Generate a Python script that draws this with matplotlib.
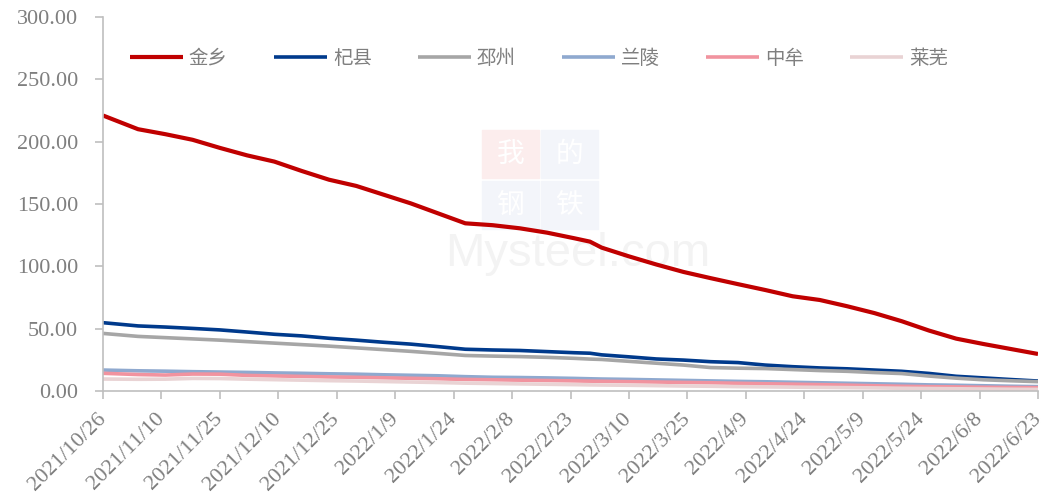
import matplotlib
matplotlib.use("Agg")
import matplotlib.pyplot as plt
import matplotlib.patches as mpatches
import pandas as pd

plt.rcParams['font.family'] = ['Liberation Serif', 'Noto Sans CJK SC', 'DejaVu Sans']

dates = ["2021-10-26", "2021-11-04", "2021-11-11", "2021-11-18", "2021-11-25",
         "2021-12-02", "2021-12-09", "2021-12-16", "2021-12-23", "2021-12-30",
         "2022-01-06", "2022-01-13", "2022-01-20", "2022-01-27", "2022-02-03",
         "2022-02-10", "2022-02-17", "2022-02-24", "2022-02-28", "2022-03-03",
         "2022-03-10", "2022-03-17", "2022-03-24", "2022-03-31", "2022-04-07",
         "2022-04-14", "2022-04-21", "2022-04-28", "2022-05-05", "2022-05-12",
         "2022-05-19", "2022-05-26", "2022-06-02", "2022-06-09", "2022-06-16",
         "2022-06-23"]

jinxiang = [221, 210, 206, 201.5, 195, 189, 184, 176.5, 169.5, 164.5,
            157.5, 150.5, 142.5, 134.5, 133, 130.5, 127, 122.5, 119.8, 115,
            108, 101.5, 95.5, 90.5, 85.7, 81, 76, 73, 68, 62.5,
            56, 48.5, 42, 37.7, 33.7, 29.7]
qixian = [54.8, 52.2, 51.3, 50.2, 49, 47.3, 45.5, 44.2, 42.3, 40.8,
          39.1, 37.6, 35.6, 33.5, 32.9, 32.5, 31.6, 30.7, 30.3, 29.0,
          27.4, 25.7, 24.8, 23.5, 22.8, 20.8, 19.5, 18.5, 17.8, 16.8,
          15.8, 14.1, 11.8, 10.5, 9.2, 8.0]
pizhou = [46.2, 43.8, 42.8, 41.8, 40.8, 39.6, 38.4, 37.2, 36, 34.6,
          33.2, 31.8, 30.2, 28.5, 28, 27.6, 27, 26.2, 25.6, 25.3,
          23.8, 22.3, 20.8, 18.8, 18.3, 18, 17.2, 16.4, 15.8, 14.8,
          14, 12, 10.3, 9, 8.2, 7.5]
lanling = [16.8, 16.2, 15.9, 15.5, 15.2, 14.9, 14.5, 14.2, 13.8, 13.5,
           13.0, 12.6, 12.2, 11.5, 11.0, 10.8, 10.5, 10.1, 9.8, 9.6,
           9.3, 8.9, 8.5, 8.1, 7.7, 7.4, 7.0, 6.6, 6.2, 5.8,
           5.4, 4.9, 4.6, 4.2, 3.8, 3.5]
zhongmou = [14.2, 13.2, 12.8, 13.6, 13.5, 12.5, 12.1, 11.7, 11.3, 11.0,
            10.6, 10.2, 9.8, 9.3, 9.0, 8.7, 8.4, 8.1, 7.9, 7.8,
            7.5, 7.2, 6.9, 6.6, 6.2, 5.8, 5.5, 5.1, 4.7, 4.2,
            3.8, 3.5, 3.3, 3.0, 2.8, 2.7]
laiwu = [9.6, 9.4, 9.5, 10.1, 10.0, 9.5, 9.1, 8.7, 8.3, 8.0,
         7.6, 7.2, 6.8, 6.3, 6.0, 5.7, 5.4, 5.1, 4.9, 4.8,
         4.6, 4.3, 4.0, 3.8, 3.5, 3.3, 3.1, 2.9, 2.7, 2.5,
         2.2, 2.0, 1.8, 1.6, 1.4, 1.3]

names = ["金乡", "杞县", "邳州", "兰陵", "中牟", "莱芜"]
series = [jinxiang, qixian, pizhou, lanling, zhongmou, laiwu]
colors = ["#C00000", "#003A8C", "#A6A6A6", "#8FA9CF", "#F1939F", "#E9D3D4"]
widths = [3.0, 2.6, 2.6, 2.6, 2.6, 2.6]

tick_dates = pd.date_range("2021-10-26", "2022-06-23", freq="15D")
yticks = [0, 50, 100, 150, 200, 250, 300]

x = pd.to_datetime(dates)

W, H = 1044, 499
fig = plt.figure(figsize=(W/100, H/100), dpi=100)
ax = fig.add_axes([103/W, 1-391/H, (1038-103)/W, (391-17)/H])
ax.set_zorder(2)
ax.set_facecolor('none')

# faint watermark behind the plot
wm_boxes = [(482, 130, "#FCEDED", "我"), (541, 130, "#F3F5FA", "的"),
            (482, 181, "#F3F5FA", "钢"), (541, 181, "#F3F5FA", "铁")]
for bx, by, bc, ch in wm_boxes:
    fig.patches.append(mpatches.Rectangle((bx/W, 1-(by+48)/H), 57/W, 48/H,
                                          transform=fig.transFigure, color=bc, zorder=0))
    fig.text((bx+28.5)/W, 1-(by+24)/H, ch, color="white", fontsize=20,
             family=['Noto Sans CJK SC'], ha='center', va='center', zorder=0.5)
fig.text(578/W, 1-266/H, "Mysteel.com", color="#F3F3F3", fontsize=34,
         family=['Liberation Sans'], ha='center', va='baseline', zorder=0.5)

for name, vals, c, w in zip(names, series, colors, widths):
    ax.plot(x, vals, color=c, lw=w, label=name, solid_capstyle='butt')

ax.set_xlim(pd.Timestamp("2021-10-26"), pd.Timestamp("2022-06-23"))
ax.set_ylim(0, 300)
ax.set_yticks(yticks)
ax.set_yticklabels([f"{v:.2f}" for v in yticks])
ax.set_xticks(tick_dates)
ax.set_xticklabels([f"{d.year}/{d.month}/{d.day}" for d in tick_dates],
                   rotation=45, ha='right', va='center', rotation_mode='anchor')

for s in ['top', 'right']:
    ax.spines[s].set_visible(False)
for s in ['left', 'bottom']:
    ax.spines[s].set_color('#BFBFBF')
    ax.spines[s].set_linewidth(1.2)
ax.tick_params(axis='both', colors='#BFBFBF', labelcolor='#7F7F7F', labelsize=16,
               length=6, width=1.2, direction='out')
ax.tick_params(axis='x', pad=12)
ax.tick_params(axis='y', pad=12)

leg = ax.legend(loc='center', bbox_to_anchor=(0.466, 0.89), ncol=6, frameon=False,
                prop={'family': ['Noto Sans CJK SC'], 'size': 14},
                handlelength=2.75, handletextpad=0.3, columnspacing=2.35)
for t in leg.get_texts():
    t.set_color('#7F7F7F')

fig.savefig("out.png", dpi=100)
